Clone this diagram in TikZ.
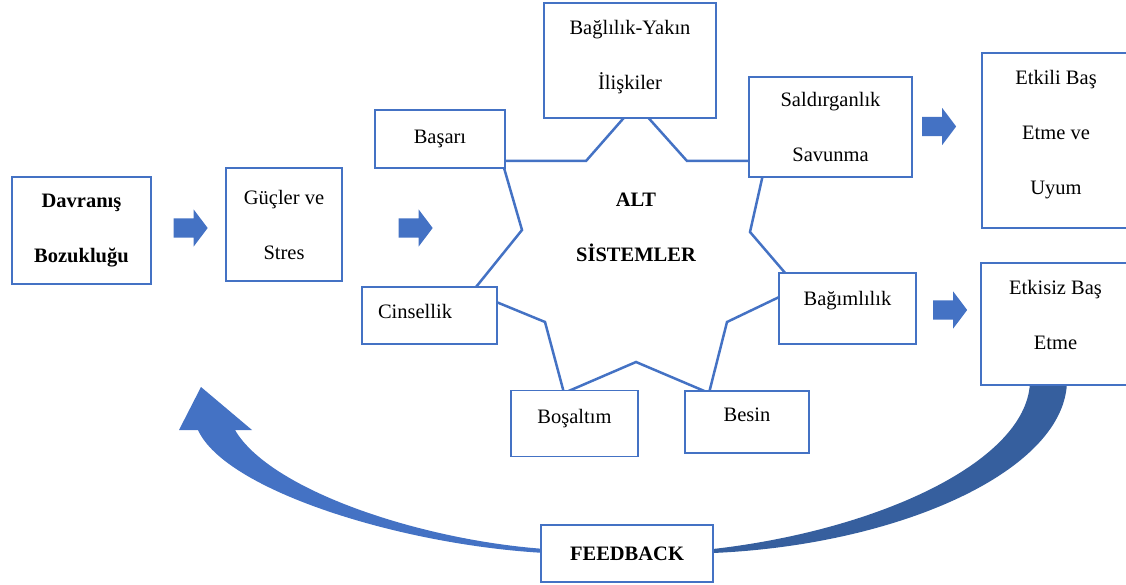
\documentclass[tikz,border=0pt]{standalone}
\usepackage{fontspec}
\setmainfont{Liberation Serif}
\usetikzlibrary{shapes.arrows}
\definecolor{boxblue}{HTML}{4472C4}
\definecolor{darkblue}{HTML}{365F9E}
\tikzset{kutu/.style={draw=boxblue, line width=1.2pt, fill=white, align=center,
    inner sep=0pt, font=\fontsize{20.5}{55}\selectfont},
    kalin/.style={font=\fontsize{20.5}{55}\selectfont\bfseries},
    ok/.style={single arrow, fill=boxblue, inner xsep=0pt, inner ysep=9.5pt,
    minimum height=34pt, single arrow head extend=9pt, single arrow tip angle=106},
    yildiz/.style={draw=boxblue, line width=2.5pt, line join=miter},
    }
\begin{document}
\begin{tikzpicture}[x=1pt,y=-1pt]
\useasboundingbox (0,0) rectangle (1126,585);
\clip (0,0) rectangle (1126,585);
% yildiz
\draw[yildiz] (636,104) -- (687,161) -- (766,161) -- (750,232) -- (798,288)
  -- (727,322) -- (709,393) -- (636,362) -- (564,393) -- (545,322)
  -- (472,292) -- (522,230) -- (502,161) -- (586,161) -- cycle;
% feedback oku
\fill[darkblue] (1030,380) -- (1067,380) .. controls (1067,470) and (900,545) .. (713,553)
  -- (713,549) .. controls (880,530) and (1030,460) .. (1030,380) -- cycle;
\fill[boxblue] (201,387) -- (252,430) -- (235,430) .. controls (270,490) and (420,540) .. (545,549)
  -- (545,553) .. controls (400,545) and (225,490) .. (198,430) -- (179,430) -- cycle;
% kutular
\node[kutu, kalin, minimum width=139pt, minimum height=107pt] (davranis) at (81.5,230.5) {Davranış\\Bozukluğu};
\node[kutu, minimum width=116pt, minimum height=113pt] (guc) at (284,224.5) {Güçler ve\\Stres};
\node[kutu, minimum width=130pt, minimum height=58pt] (basari) at (440,139) {Başarı};
\node[kutu, minimum width=172pt, minimum height=115pt, text depth=11pt] (baglilik) at (630,60.5) {Bağlılık-Yakın\\İlişkiler};
\node[kutu, minimum width=163pt, minimum height=100pt] (saldirgan) at (830.5,127) {Saldırganlık\\Savunma};
\node[kutu, minimum width=148pt, minimum height=175pt, text depth=17pt] (etkili) at (1056,140.5) {Etkili Baş\\Etme ve\\Uyum};
\node[kutu, minimum width=149pt, minimum height=122pt, text depth=18pt] (etkisiz) at (1055.5,324) {Etkisiz Baş\\Etme};
\node[kutu, minimum width=137pt, minimum height=71pt, text depth=21pt] (bagimli) at (847.5,308.5) {Bağımlılık};
\node[kutu, minimum width=135pt, minimum height=57pt, text width=103pt, align=left, text depth=8pt] (cinsel) at (429.5,315.5) {Cinsellik};
\node[kutu, minimum width=127pt, minimum height=66pt, text depth=15pt] (bosaltim) at (574.5,423.5) {Boşaltım};
\node[kutu, minimum width=124pt, minimum height=62pt, text depth=14pt] (besin) at (747,422) {Besin};
\node[kutu, kalin, minimum width=172pt, minimum height=57pt] (feedback) at (627,553.5) {FEEDBACK};
\node[kalin, align=center] (alt) at (636,227) {ALT\\SİSTEMLER};
% oklar
\node[ok] (ok1) at (187,228) {};
\node[ok] (ok2) at (412,228) {};
\node[ok] (ok3) at (935.5,126.5) {};
\node[ok] (ok4) at (946.5,310) {};
\end{tikzpicture}
\end{document}
